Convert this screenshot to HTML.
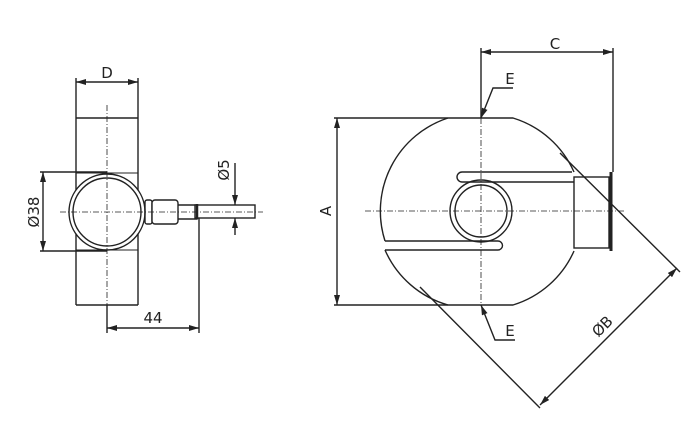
<!DOCTYPE html>
<html><head><style>body{margin:0;background:#fff}svg{display:block}</style></head><body>
<svg width="696" height="435" viewBox="0 0 696 435" xmlns="http://www.w3.org/2000/svg" font-family="DejaVu Sans, Liberation Sans, sans-serif" font-size="15" fill="none" stroke="#222" stroke-width="1.4">
<defs><marker id="a" viewBox="0 0 10 6" refX="10" refY="3" markerWidth="10" markerHeight="6" orient="auto-start-reverse" markerUnits="userSpaceOnUse"><path d="M0,0L10,3L0,6z" fill="#222" stroke="none"/></marker></defs>
<!-- LEFT VIEW -->
<g>
<path d="M76,118H138M76,305H138M76,118V305M138,118V305"/>
<path d="M76,173H138M76,250H138" stroke-width="1"/>
<circle cx="107" cy="212" r="38" fill="#fff"/>
<circle cx="107" cy="212" r="34"/>
<rect x="145" y="200" width="7" height="24" rx="2"/>
<rect x="152" y="200" width="26" height="24" rx="3" fill="#fff"/>
<path d="M178,205H197V219H178"/>
<rect x="195" y="205" width="60" height="13" fill="#fff"/>
<path d="M197,204V219" stroke-width="2.5"/>
<path d="M60,212H263M107,105V312" stroke-dasharray="6,2,1,2" stroke-width="0.8"/>
<path d="M76,118V78M138,118V78"/>
<path d="M76,82H138" marker-start="url(#a)" marker-end="url(#a)"/>
<path d="M107,172H40M107,251H40"/>
<path d="M43,172V251" marker-start="url(#a)" marker-end="url(#a)"/>
<path d="M107,305V333M199,218V333"/>
<path d="M107,328H199" marker-start="url(#a)" marker-end="url(#a)"/>
<path d="M235,163V205" marker-end="url(#a)"/>
<path d="M235,235V218" marker-end="url(#a)"/>
<g fill="#222" stroke="none">
<text x="107" y="78" text-anchor="middle">D</text>
<text x="153" y="323" text-anchor="middle">44</text>
<text transform="translate(39,212) rotate(-90)" text-anchor="middle">Ø38</text>
<text transform="translate(229,170) rotate(-90)" text-anchor="middle">Ø5</text>
</g>
</g>
<!-- RIGHT VIEW -->
<g>
<path d="M448,118H513A98,98 0 0 1 574,172M574,251A98,98 0 0 1 513,305H448A98,98 0 0 1 385,250M385,241A98,98 0 0 1 448,118"/>
<path d="M572,172H462A5,5 0 0 0 462,182H574"/>
<path d="M385,241H498A4.5,4.5 0 0 1 498,250H385"/>
<circle cx="481" cy="211" r="31"/>
<circle cx="481" cy="211" r="26"/>
<rect x="574" y="177" width="35" height="71"/>
<path d="M611,172V251" stroke-width="3"/>
<path d="M365,211H625M481,118V305" stroke-dasharray="6,2,1,2" stroke-width="0.8"/>
<path d="M448,118H334M448,305H334"/>
<path d="M337,118V305" marker-start="url(#a)" marker-end="url(#a)"/>
<path d="M481,118V48M613,172V48"/>
<path d="M481,52H613" marker-start="url(#a)" marker-end="url(#a)"/>
<path d="M560,153L680,272M420,287L540,408"/>
<path d="M540,405L677,268" marker-start="url(#a)" marker-end="url(#a)"/>
<path d="M513,88H493L481,118" marker-end="url(#a)"/>
<path d="M515,340H495L481,305" marker-end="url(#a)"/>
<g fill="#222" stroke="none">
<text x="555" y="49" text-anchor="middle">C</text>
<text x="510" y="84" text-anchor="middle">E</text>
<text x="510" y="336" text-anchor="middle">E</text>
<text transform="translate(331,211) rotate(-90)" text-anchor="middle">A</text>
<text transform="translate(606,330) rotate(-45)" text-anchor="middle">ØB</text>
</g>
</g>
</svg>
</body></html>
